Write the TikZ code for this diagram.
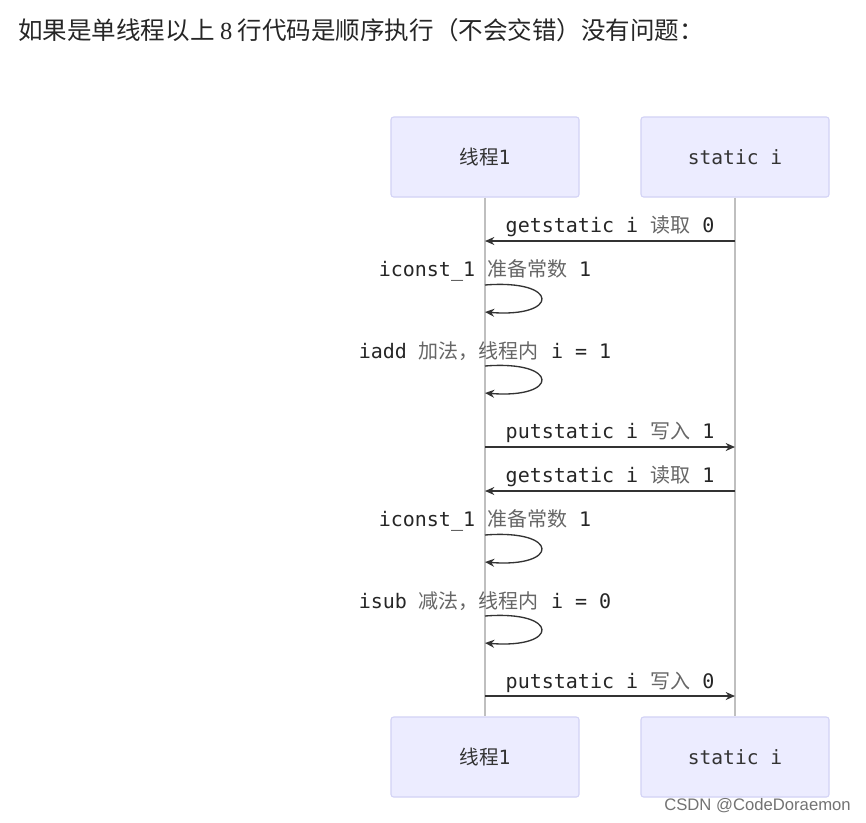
\documentclass[tikz,border=0pt]{standalone}
\usepackage{fontspec}
\setmainfont{Noto Sans CJK SC}
\newfontfamily\zh{Noto Sans CJK SC}
\newfontfamily\mono{DejaVu Sans Mono}
\usetikzlibrary{arrows.meta}
\definecolor{boxfill}{HTML}{ECECFF}
\definecolor{boxline}{HTML}{D2D2F5}
\definecolor{txt}{HTML}{333333}
\tikzset{
  actor/.style={draw=boxline,fill=boxfill,rounded corners=2pt,minimum width=141pt,minimum height=60pt,line width=0.8pt,text=txt,font=\mono\fontsize{14.7}{17}\selectfont},
  life/.style={draw=black!25,line width=0.8pt},
  msg/.style={draw=black!80,line width=1pt,-{Stealth[length=7pt,width=6pt]}},
  lbl/.style={text=black!85,font=\mono\fontsize{15}{18}\selectfont,inner sep=0pt},
}
\newcommand{\zhx}[1]{{\zh\fontsize{15}{18}\selectfont\color{black!60}#1}}
\begin{document}
\begin{tikzpicture}[x=0.75pt,y=-0.75pt]
\useasboundingbox[fill=white] (0,0) rectangle (866,822);
\node[anchor=west,inner sep=0pt,text=black!85,font=\zh\fontsize{18.4}{21}\selectfont] (title) at (18,30) {如果是单线程以上 {\fontspec{Liberation Serif}8} 行代码是顺序执行（不会交错）没有问题：};
\node[actor] (t1) at (485,157) {\zh 线程{\mono 1}};
\node[actor] (si) at (735,157) {static i};
\node[actor] (t1b) at (485,757) {\zh 线程{\mono 1}};
\node[actor] (sib) at (735,757) {static i};
\draw[life] (t1) -- (t1b);
\draw[life] (si) -- (sib);
\foreach \n/\y in {1/241,2/447,3/491,4/696}{
  \coordinate (l\n) at (485,\y); \coordinate (r\n) at (735,\y);}
\draw[msg] (r1) -- (l1);
\node[lbl] (m1) at (610,226) {getstatic i \zhx{读取} 0};
\draw[msg] (l2) -- (r2);
\node[lbl] (m2) at (610,432) {putstatic i \zhx{写入} 1};
\draw[msg] (r3) -- (l3);
\node[lbl] (m3) at (610,476) {getstatic i \zhx{读取} 1};
\draw[msg] (l4) -- (r4);
\node[lbl] (m4) at (610,682) {putstatic i \zhx{写入} 0};
\foreach \n/\y in {a/285,b/366,c/535,d/616}{
  \coordinate (s\n) at (485,\y); \coordinate (e\n) at (485,\y+27);
  \draw[msg] (s\n) .. controls (560,\y-6) and (560,\y+33) .. (e\n);}
\node[lbl] (n1) at (485,270) {iconst\_1 \zhx{准备常数} 1};
\node[lbl] (n2) at (485,351) {iadd \zhx{加法，线程内} i = 1};
\node[lbl] (n3) at (485,520) {iconst\_1 \zhx{准备常数} 1};
\node[lbl] (n4) at (485,601) {isub \zhx{减法，线程内} i = 0};
\node[anchor=east,inner sep=0pt,text=black!55,font=\fontspec{Liberation Sans}\fontsize{12.5}{14}\selectfont] (wm) at (851,806) {CSDN @CodeDoraemon};
\end{tikzpicture}
\end{document}
